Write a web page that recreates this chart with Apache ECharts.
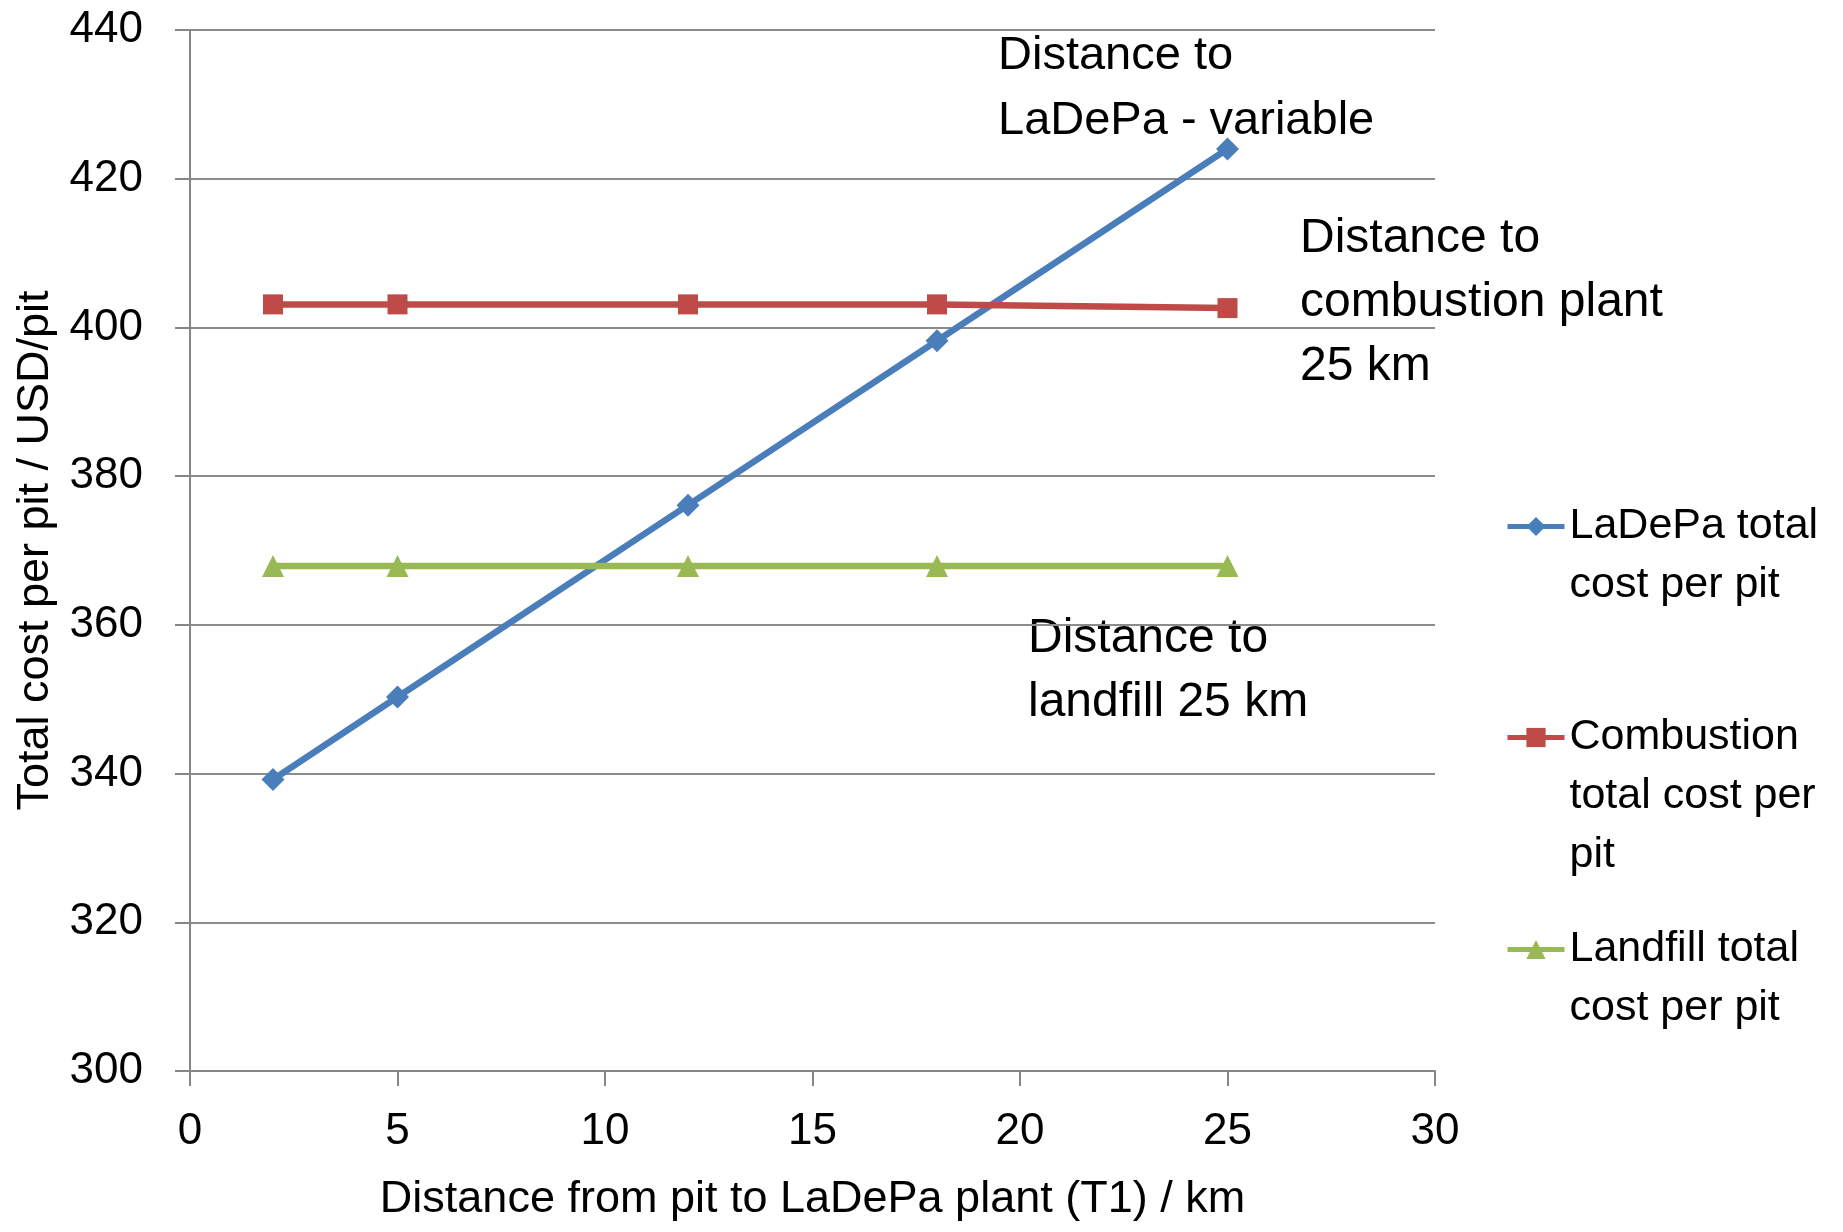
<!DOCTYPE html>
<html>
<head>
<meta charset="utf-8">
<script src="https://cdn.jsdelivr.net/npm/echarts@6/dist/echarts.min.js"></script>
<style>html,body{margin:0;padding:0;background:#fff}#c{width:1843px;height:1232px}</style>
</head>
<body>
<div id="c"></div>
<script>
var distances = [2, 5, 12, 18, 25];
var ladepaCost = [339.2, 350.3, 376.1, 398.2, 424.0];
var combustionCost = [403.1, 403.1, 403.1, 403.1, 402.6];
var landfillCost = [367.9, 367.9, 367.9, 367.9, 367.9];
var seriesNames = ['LaDePa total cost per pit', 'Combustion total cost per pit', 'Landfill total cost per pit'];
var legendWrapped = {
  'LaDePa total cost per pit': 'LaDePa total\ncost per pit',
  'Combustion total cost per pit': 'Combustion\ntotal cost per\npit',
  'Landfill total cost per pit': 'Landfill total\ncost per pit'
};
var annotations = ['Distance to\nLaDePa - variable', 'Distance to\ncombustion plant\n25 km', 'Distance to\nlandfill 25 km'];

var FONT = '"Liberation Sans", Arial, sans-serif';
function pairs(xs, ys) { return xs.map(function (x, i) { return [x, ys[i]]; }); }

var chart = echarts.init(document.getElementById('c'), null, {renderer: 'canvas'});

function legendFor(name, top) {
  var txt = legendWrapped[name];
  var n = txt.split('\n').length;
  var blanks = new Array(n).join('\n');
  return {
    data: [name], left: 1505, top: top, orient: 'vertical', padding: 0,
    itemWidth: 57, itemHeight: 24, itemGap: 0,
    lineStyle: {width: 5},
    textStyle: {fontFamily: FONT, fontSize: 43, color: '#000', lineHeight: 59},
    formatter: function () { return blanks + txt; }
  };
}

var option = {
  animation: false,
  backgroundColor: '#fff',
  grid: {left: 190, right: 408, top: 30, bottom: 161, containLabel: false},
  xAxis: {
    type: 'value', min: 0, max: 30, interval: 5,
    name: 'Distance from pit to LaDePa plant (T1) / km',
    nameLocation: 'middle', nameGap: 106,
    nameTextStyle: {fontFamily: FONT, fontSize: 45, color: '#000'},
    axisLine: {show: true, lineStyle: {color: '#868686', width: 2}},
    axisTick: {show: true, length: 15, lineStyle: {color: '#868686', width: 2}},
    axisLabel: {margin: 39, fontFamily: FONT, fontSize: 44, color: '#000'},
    splitLine: {show: false}
  },
  yAxis: {
    type: 'value', min: 300, max: 440, interval: 20,
    name: 'Total cost per pit / USD/pit',
    nameLocation: 'middle', nameGap: 132, nameRotate: 90,
    nameTextStyle: {fontFamily: FONT, fontSize: 45, color: '#000'},
    axisLine: {show: true, lineStyle: {color: '#868686', width: 2}},
    axisTick: {show: true, length: 15, lineStyle: {color: '#868686', width: 2}},
    axisLabel: {margin: 47, fontFamily: FONT, fontSize: 44, color: '#000'},
    splitLine: {show: true, lineStyle: {color: '#8c8c8c', width: 2}}
  },
  legend: [
    legendFor(seriesNames[0], 438),
    legendFor(seriesNames[1], 590),
    legendFor(seriesNames[2], 861)
  ],
  series: [
    {name: seriesNames[0], type: 'line', data: pairs(distances, ladepaCost),
     symbol: 'diamond', symbolSize: 23, color: '#4A7EBB',
     lineStyle: {width: 6.5, color: '#4A7EBB'}, itemStyle: {color: '#4A7EBB'}},
    {name: seriesNames[1], type: 'line', data: pairs(distances, combustionCost),
     symbol: 'rect', symbolSize: 20, color: '#BE4B48',
     lineStyle: {width: 6.5, color: '#BE4B48'}, itemStyle: {color: '#BE4B48'}},
    {name: seriesNames[2], type: 'line', data: pairs(distances, landfillCost),
     symbol: 'triangle', symbolSize: 22, color: '#98B954',
     lineStyle: {width: 6.5, color: '#98B954'}, itemStyle: {color: '#98B954'}}
  ],
  graphic: [
    {type: 'text', left: 998, top: 24, style: {text: annotations[0], font: '47px ' + FONT, lineHeight: 65, fill: '#000'}},
    {type: 'text', left: 1300, top: 207, style: {text: annotations[1], font: '48px ' + FONT, lineHeight: 64, fill: '#000'}},
    {type: 'text', left: 1028, top: 607, style: {text: annotations[2], font: '48px ' + FONT, lineHeight: 64, fill: '#000'}}
  ]
};
chart.setOption(option);
</script>
</body>
</html>
